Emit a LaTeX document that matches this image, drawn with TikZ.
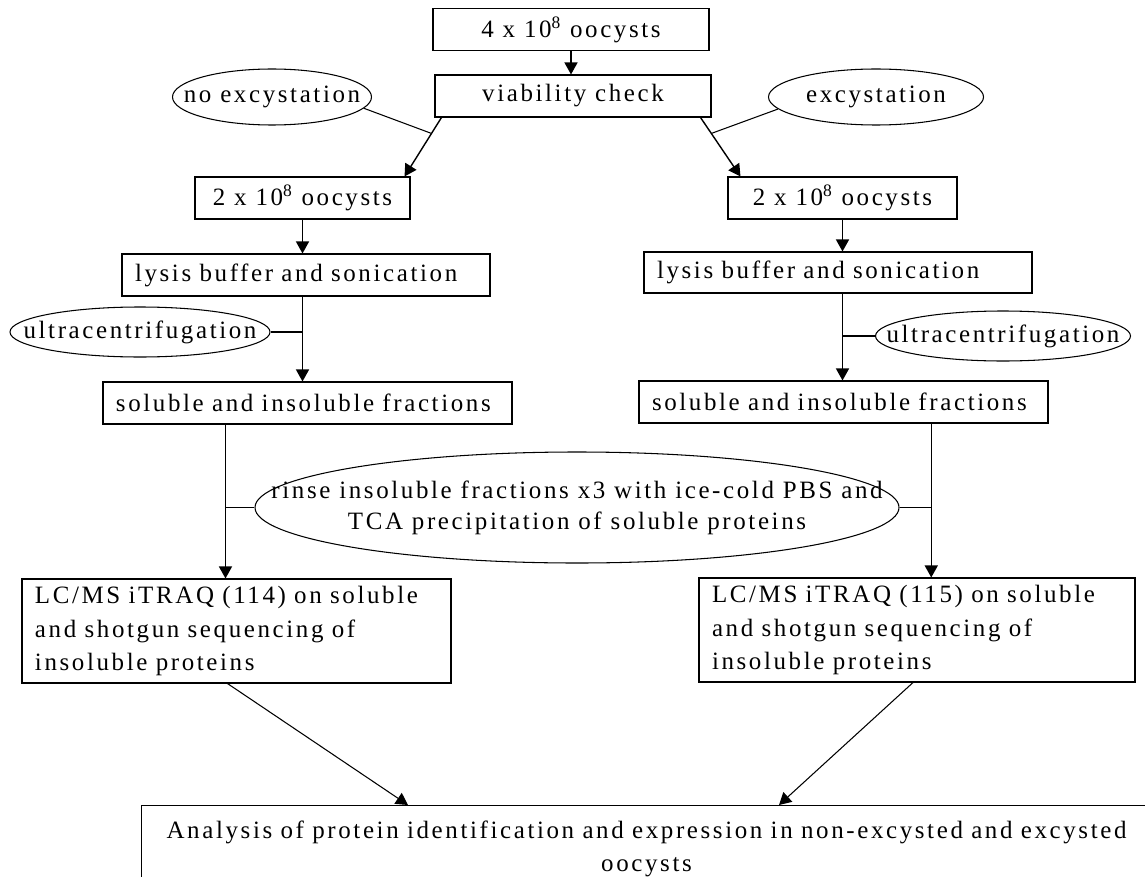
\documentclass[tikz,border=0pt]{standalone}
\usepackage{fontspec}
\setmainfont{Liberation Serif}[LetterSpace=10.5]
\usetikzlibrary{calc,shapes.geometric,arrows.meta}

\begin{document}
\begin{tikzpicture}[x=0.2mm,y=-0.2mm,
  font=\fontsize{14.2}{19.2}\selectfont,
  box/.style={draw,line width=0.6pt,inner xsep=2.6mm,inner ysep=0pt,minimum height=8.4mm},
  lbox/.style={box,text width=#1,align=left},
  oval/.style={draw,ellipse,line width=0.6pt,inner sep=0pt},
  arr/.style={-{Triangle[length=2.4mm,width=2.6mm]},line width=0.8pt}]
  \useasboundingbox (0,0) rectangle (1145,876);
  \clip (0,0) rectangle (1145,876);
  \node[box,minimum width=55.2mm] (start) at (571,29.5) {4 x 10\textsuperscript{8} oocysts};
  \node[box,minimum width=55.2mm] (viab) at (573,96) {viability check};
  \node[oval,minimum width=39.8mm,minimum height=11.2mm] (noexc) at (272,97) {\makebox[0pt]{no excystation}};
  \node[oval,minimum width=43mm,minimum height=11.2mm] (exc) at (876,97) {\makebox[0pt]{excystation}};
  \node[box,minimum width=43mm] (lcount) at (302.5,198) {2 x 10\textsuperscript{8} oocysts};
  \node[box,minimum width=45.8mm] (rcount) at (842.5,198) {2 x 10\textsuperscript{8} oocysts};
  \node[lbox=68.4mm] (llysis) at (306,275) {lysis buffer and sonication};
  \node[lbox=72.4mm,minimum height=8.2mm] (rlysis) at (838,272.5) {lysis buffer and sonication};
  \node[oval,minimum width=52mm,minimum height=10mm] (lucf) at (140,332) {\makebox[0pt]{ultracentrifugation}};
  \node[oval,minimum width=51mm,minimum height=10mm] (rucf) at (1003,336) {\makebox[0pt]{ultracentrifugation}};
  \node[lbox=76.6mm] (lfrac) at (307.5,403) {soluble and insoluble fractions};
  \node[lbox=76.6mm] (rfrac) at (843.5,402) {soluble and insoluble fractions};
  \node[oval,minimum width=128.8mm,minimum height=22.2mm] (rinse) at (577,507.5)
    {\makebox[0pt]{\renewcommand\arraystretch{0.93}\begin{tabular}{@{}c@{}}rinse insoluble fractions x3 with ice-cold PBS and\\TCA precipitation of soluble proteins\end{tabular}}};
  \node[lbox=80.6mm,minimum height=20.8mm] (lms) at (236.5,631)
    {LC/MS iTRAQ (114) on soluble\\and shotgun sequencing of\\insoluble proteins};
  \node[lbox=82mm,minimum height=20.8mm] (rms) at (917,630)
    {LC/MS iTRAQ (115) on soluble\\and shotgun sequencing of\\insoluble proteins};
  \node[box,anchor=north west,text width=196.8mm,align=center,inner ysep=3mm] (result) at (141,805)
    {Analysis of protein identification and expression in non-excysted and excysted\\oocysts};

  \coordinate (la) at ($(viab.south west)+(7,0)$);
  \coordinate (lb) at ($(lcount.north east)+(-6,0)$);
  \coordinate (ra) at ($(viab.south east)+(-11,0)$);
  \coordinate (rb) at ($(rcount.north west)+(13,0)$);
  \coordinate (lout) at ($(lfrac.south west)!0.3!(lfrac.south east)$);
  \coordinate (rout) at ($(rfrac.south west)!0.714!(rfrac.south east)$);

  \draw[arr] (start.south) -- (start.south |- viab.north);
  \draw[arr] (la) -- (lb);
  \draw[arr] (ra) -- (rb);
  \draw[line width=0.6pt] (noexc.-7) -- ($(la)!0.27!(lb)$);
  \draw[line width=0.6pt] (exc.187) -- ($(ra)!0.27!(rb)$);
  \draw[arr] (lcount.south) -- (lcount.south |- llysis.north);
  \draw[arr] (llysis.south -| lcount.south) -- (lfrac.north -| lcount.south);
  \draw[line width=0.6pt] (lucf.east) -- (lucf.east -| lcount.south);
  \draw[arr] (rcount.south) -- (rcount.south |- rlysis.north);
  \draw[arr] (rlysis.south -| rcount.south) -- (rfrac.north -| rcount.south);
  \draw[line width=0.6pt] (rucf.west) -- (rucf.west -| rcount.south);
  \draw[arr] (lout) -- (lout |- lms.north);
  \draw[arr] (rout) -- (rout |- rms.north);
  \draw[line width=0.6pt] (rinse.west) -- (rinse.west -| lout);
  \draw[line width=0.6pt] (rinse.east) -- (rinse.east -| rout);
  \draw[arr,line width=0.6pt] ($(lms.south)+(-9,0)$) -- ($(result.north west)+(267,0)$);
  \draw[arr,line width=0.6pt] ($(rms.south)+(-4,0)$) -- ($(result.north west)+(638,0)$);
\end{tikzpicture}
\end{document}
